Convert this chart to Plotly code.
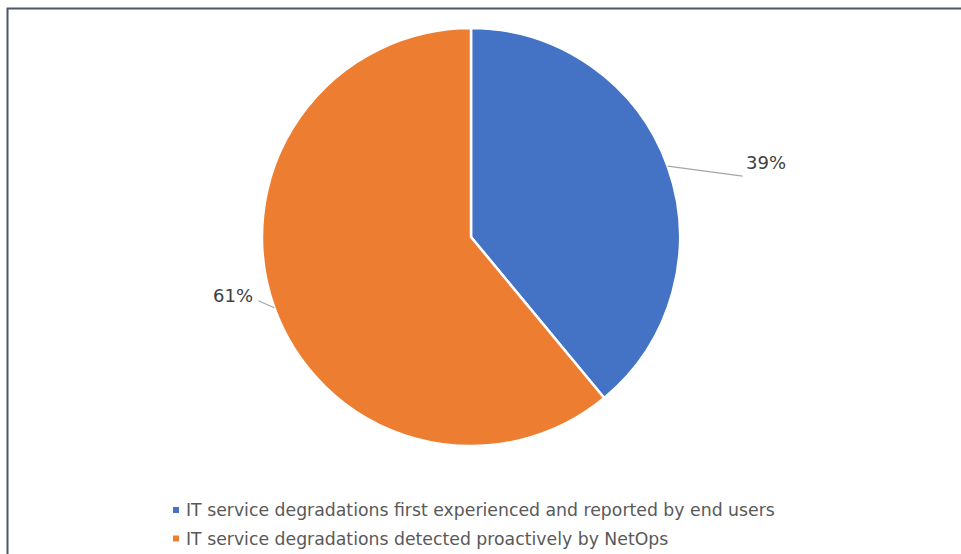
import math
import plotly.graph_objects as go

categories = [
    "IT service degradations first experienced and reported by end users",
    "IT service degradations detected proactively by NetOps",
]
values = [39, 61]
colors = ["#4472C4", "#ED7D31"]

W, H = 961, 554
CX, CY, R = 471, 237, 209  # pie centre / radius in pixels


def px(x):
    return x / W


def py(y):
    return 1 - y / H


fig = go.Figure()
fig.add_trace(go.Pie(
    labels=categories,
    values=values,
    sort=False,
    direction="clockwise",
    rotation=0,
    marker=dict(colors=colors, line=dict(color="white", width=2.5)),
    textinfo="none",
    hoverinfo="label+percent",
    showlegend=False,
    domain=dict(x=[px(CX - R), px(CX + R)], y=[py(CY + R), py(CY - R)]),
))

shapes = []
annotations = []

# border frame
shapes.append(dict(type="rect", xref="paper", yref="paper",
                   x0=px(7.5), x1=1.05, y0=-0.05, y1=py(8.5),
                   line=dict(color="#4a5868", width=2), layer="above"))

total = sum(values)
cum = 0
for v in values:
    frac = v / total
    mid = (cum + frac / 2) * 2 * math.pi
    cum += frac
    pxx = CX + R * math.sin(mid)
    pyy = CY - R * math.cos(mid)
    label = f"{round(v / total * 100)}%"
    if math.sin(mid) >= 0:
        ex, ey = pxx + 75, pyy + 10
        shapes.append(dict(type="line", xref="paper", yref="paper",
                           x0=px(pxx), y0=py(pyy), x1=px(ex), y1=py(ey),
                           line=dict(color="#a6a6a6", width=1.2)))
        annotations.append(dict(x=px(ex + 1), y=py(ey - 14), xref="paper", yref="paper",
                                text=label, showarrow=False, xanchor="left", yanchor="middle",
                                font=dict(size=18, color="#404040", family="DejaVu Sans")))
    else:
        ex, ey = pxx - 16, pyy - 7
        shapes.append(dict(type="line", xref="paper", yref="paper",
                           x0=px(pxx), y0=py(pyy), x1=px(ex), y1=py(ey),
                           line=dict(color="#a6a6a6", width=1.2)))
        annotations.append(dict(x=px(ex - 3), y=py(ey - 5), xref="paper", yref="paper",
                                text=label, showarrow=False, xanchor="right", yanchor="middle",
                                font=dict(size=18, color="#404040", family="DejaVu Sans")))

# custom legend
LEG_X, LEG_Y0, LEG_DY = 176, 510, 28.5
for i, (name, col) in enumerate(zip(categories, colors)):
    yy = LEG_Y0 + i * LEG_DY
    shapes.append(dict(type="rect", xref="paper", yref="paper",
                       x0=px(LEG_X - 3), x1=px(LEG_X + 3), y0=py(yy + 3), y1=py(yy - 3),
                       fillcolor=col, line=dict(width=0)))
    annotations.append(dict(x=px(LEG_X + 8), y=py(yy), xref="paper", yref="paper",
                            text=name, showarrow=False, xanchor="left", yanchor="middle",
                            font=dict(size=17.3, color="#595959", family="DejaVu Sans")))

fig.update_layout(
    width=W, height=H,
    margin=dict(l=0, r=0, t=0, b=0),
    paper_bgcolor="white",
    plot_bgcolor="white",
    shapes=shapes,
    annotations=annotations,
    font=dict(family="DejaVu Sans"),
)

fig.write_html("out.html")
